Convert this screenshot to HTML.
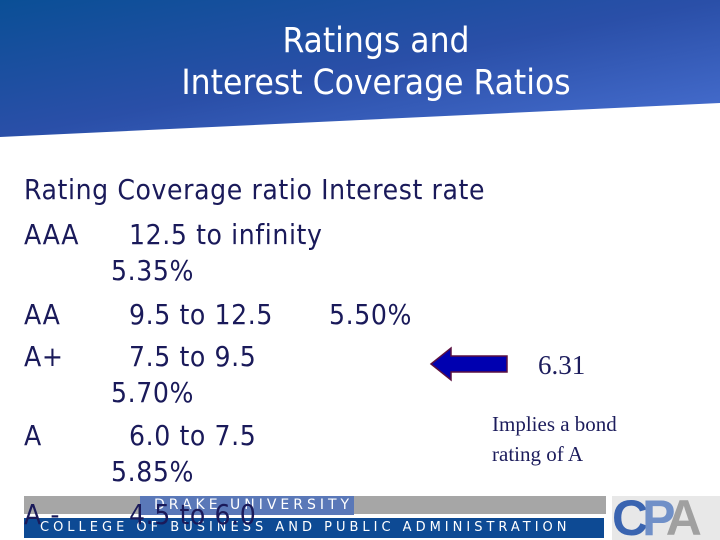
<!DOCTYPE html>
<html><head><meta charset="utf-8"><style>
body{margin:0;width:720px;height:540px;overflow:hidden;background:#fff;position:relative;font-family:"Liberation Sans",sans-serif}
.t{position:absolute;font-size:28px;letter-spacing:0.6px;color:#1a1a5a;white-space:nowrap;line-height:1;font-family:"DejaVu Sans Condensed","DejaVu Sans",sans-serif}
.s{position:absolute;font-family:"Liberation Serif",serif;color:#1c1c5c;white-space:nowrap}
</style></head><body>
<svg width="720" height="150" style="position:absolute;left:0;top:0">
<defs><linearGradient id="g" x1="0" y1="0" x2="1" y2="1"><stop offset="0" stop-color="#0a4f96"/><stop offset="0.5" stop-color="#2a4fa8"/><stop offset="1" stop-color="#4a72d4"/></linearGradient></defs>
<polygon points="0,0 720,0 720,103 0,137" fill="url(#g)"/></svg>
<div style="position:absolute;left:0;top:20px;width:752px;text-align:center;color:#fff;font-size:35px;line-height:42px;font-family:'DejaVu Sans Condensed','DejaVu Sans',sans-serif">Ratings and<br>Interest Coverage Ratios</div>
<div class="t" style="left:24px;top:176px">Rating Coverage ratio Interest rate</div>
<div class="t" style="left:24px;top:221px">AAA</div>
<div class="t" style="left:129px;top:221px">12.5 to infinity</div>
<div class="t" style="left:111px;top:257px">5.35%</div>
<div class="t" style="left:24px;top:301px">AA</div>
<div class="t" style="left:129px;top:301px">9.5 to 12.5</div>
<div class="t" style="left:329px;top:301px">5.50%</div>
<div class="t" style="left:24px;top:343px">A+</div>
<div class="t" style="left:129px;top:343px">7.5 to 9.5</div>
<div class="t" style="left:111px;top:379px">5.70%</div>
<div class="t" style="left:24px;top:422px">A</div>
<div class="t" style="left:129px;top:422px">6.0 to 7.5</div>
<div class="t" style="left:111px;top:458px">5.85%</div>
<svg width="720" height="540" style="position:absolute;left:0;top:0">
<polygon points="431,364 451,348 451,356 507,356 507,372 451,372 451,380" fill="#0000b0" stroke="#5a1040" stroke-width="1.5"/></svg>
<div class="s" style="left:538px;top:350px;font-size:27px">6.31</div>
<div class="s" style="left:492px;top:409px;font-size:21px;line-height:30px">Implies a bond<br>rating of A</div>
<div style="position:absolute;left:24px;top:496px;width:582px;height:18px;background:#a6a6a6"></div>
<div style="position:absolute;left:140px;top:496px;width:214px;height:19px;background:#5a78b8;color:#fff;font-size:14px;letter-spacing:4px;line-height:19px;padding-left:14px;box-sizing:border-box;white-space:nowrap;font-family:'DejaVu Sans',sans-serif">DRAKE UNIVERSITY</div>
<div style="position:absolute;left:24px;top:518px;width:580px;height:20px;background:#0d4a94;color:#fff;font-size:13px;letter-spacing:4px;line-height:20px;padding-left:16px;box-sizing:border-box;white-space:nowrap;font-family:'DejaVu Sans',sans-serif">COLLEGE OF BUSINESS AND PUBLIC ADMINISTRATION</div>
<div style="position:absolute;left:612px;top:496px;width:108px;height:44px;background:#e8e8e8;font-weight:bold;font-size:50px;line-height:44px;letter-spacing:-6px;overflow:hidden"><span style="color:#3a64b0">C</span><span style="color:#7090c8">P</span><span style="color:#a0a0a0">A</span></div>
<div class="t" style="left:24px;top:501px">A -</div>
<div class="t" style="left:129px;top:501px">4.5 to 6.0</div>
</body></html>
